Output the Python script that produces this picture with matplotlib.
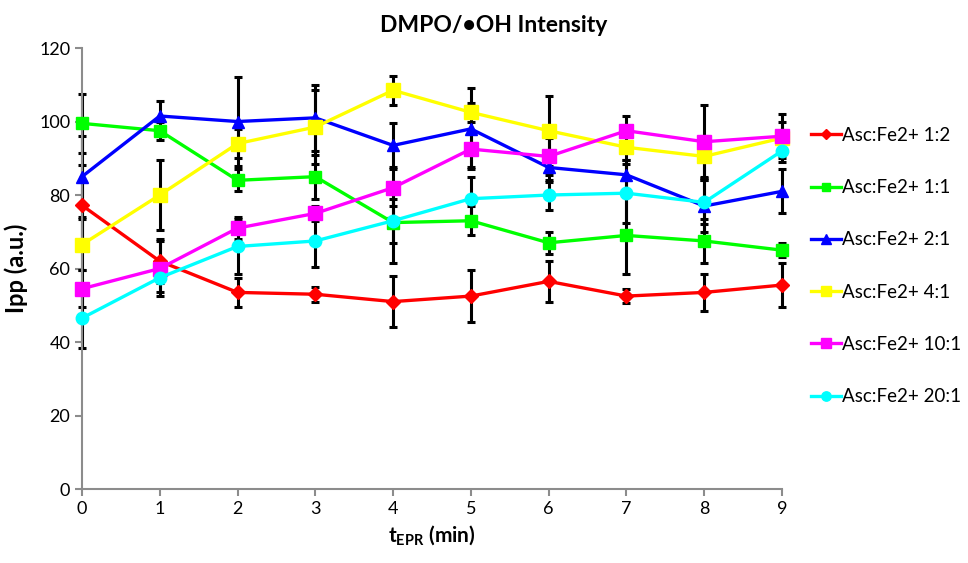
import matplotlib
matplotlib.use("Agg")
import matplotlib.pyplot as plt

plt.rcParams['font.family'] = ['Lato', 'DejaVu Sans']
plt.rcParams['mathtext.fontset'] = 'custom'
plt.rcParams['mathtext.rm'] = 'Lato'
plt.rcParams['mathtext.bf'] = 'Lato:bold'

# time after start (min)
t_epr = [0, 1, 2, 3, 4, 5, 6, 7, 8, 9]

# Ipp values per Asc:Fe2+ ratio
ipp_1_2 = [77.2, 62.0, 53.5, 53.0, 51.0, 52.5, 56.5, 52.5, 53.5, 55.5]
ipp_1_1 = [99.5, 97.5, 84.0, 85.0, 72.5, 73.0, 67.0, 69.0, 67.5, 65.0]
ipp_2_1 = [85.0, 101.5, 100.0, 101.0, 93.5, 98.0, 87.5, 85.5, 77.0, 81.0]
ipp_4_1 = [66.5, 80.0, 94.0, 98.5, 108.5, 102.5, 97.5, 93.0, 90.5, 95.5]
ipp_10_1 = [54.5, 60.0, 71.0, 75.0, 82.0, 92.5, 90.5, 97.5, 94.5, 96.0]
ipp_20_1 = [46.5, 57.5, 66.0, 67.5, 73.0, 79.0, 80.0, 80.5, 78.0, 92.0]

# error bars (+/-)
err_1_2 = [11, 6, 4, 2, 7, 7, 5.5, 2, 5, 6]
err_1_1 = [8, 2.5, 3, 6, 11, 4, 3, 10.5, 6, 2]
err_2_1 = [11, 4, 12, 9, 6, 11, 4, 4, 7, 6]
err_4_1 = [7, 9.5, 4, 10, 4, 2.5, 9.5, 3.5, 5.5, 4.5]
err_10_1 = [5, 7.5, 3, 2, 5, 5, 5, 4, 10, 6]
err_20_1 = [8, 4, 7.5, 7, 6, 6, 4, 8, 6, 3]

labels = ['Asc:Fe2+ 1:2', 'Asc:Fe2+ 1:1', 'Asc:Fe2+ 2:1',
          'Asc:Fe2+ 4:1', 'Asc:Fe2+ 10:1', 'Asc:Fe2+ 20:1']
series = [ipp_1_2, ipp_1_1, ipp_2_1, ipp_4_1, ipp_10_1, ipp_20_1]
errors = [err_1_2, err_1_1, err_2_1, err_4_1, err_10_1, err_20_1]
colors = ['#FF0000', '#00FF00', '#0000FF', '#FFFF00', '#FF00FF', '#00FFFF']
markers = ['D', 's', '^', 's', 's', 'o']
msizes = [7, 8, 9, 10, 10, 9]

fig = plt.figure(figsize=(9.68, 5.63), dpi=100)
ax = fig.add_axes([0.0847, 0.1314, 0.7231, 0.7833])

# error bars first, then the lines on top
for y, e in zip(series, errors):
    ax.errorbar(t_epr, y, yerr=e, fmt='none', ecolor='black',
                elinewidth=2.2, capsize=3, capthick=2.2, zorder=2, clip_on=False)

for y, lab, c, m, ms in zip(series, labels, colors, markers, msizes):
    ax.plot(t_epr, y, color=c, lw=2.4, marker=m, markersize=ms,
            markeredgecolor=c, label=lab, zorder=3, clip_on=False)

ax.set_xlim(0, 9)
ax.set_ylim(0, 120)
ax.set_xticks(t_epr)
ax.set_yticks(range(0, 121, 20))

for s in ['top', 'right']:
    ax.spines[s].set_visible(False)
for s in ['left', 'bottom']:
    ax.spines[s].set_color('#8c8c8c')
    ax.spines[s].set_linewidth(1.5)
ax.tick_params(axis='both', colors='#8c8c8c', width=1.5, length=5,
               labelcolor='black', labelsize=13)

ax.set_xlabel(r'$\mathbf{t_{EPR}}$ (min)', fontsize=15, fontweight='bold', labelpad=5)
ax.set_ylabel('Ipp (a.u.)', fontsize=17, fontweight='bold', labelpad=8)
fig.text(0.51, 0.955, 'DMPO/•OH Intensity', ha='center', va='center',
         fontsize=16.5, fontweight='bold')

leg = ax.legend(loc='upper left', bbox_to_anchor=(1.031, 0.838), frameon=False,
                fontsize=13.5, handlelength=1.6, handletextpad=0.05,
                labelspacing=1.88, markerscale=0.75, borderaxespad=0)

fig.savefig('out.png', dpi=100)
